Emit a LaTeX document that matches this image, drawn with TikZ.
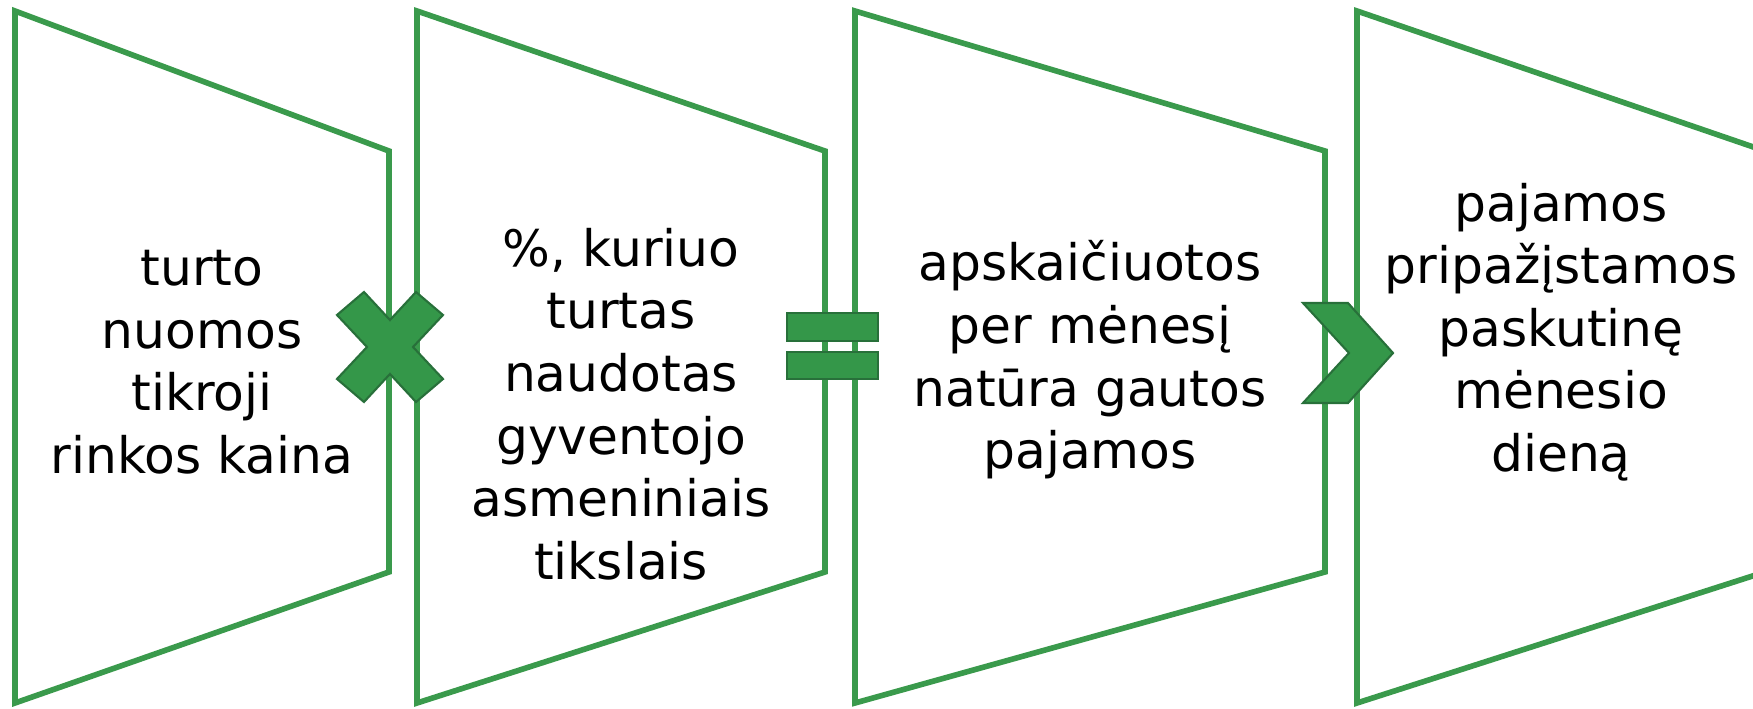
\documentclass[tikz,border=0pt]{standalone}
\usepackage{fontspec}
\setmainfont{DejaVu Sans}
\definecolor{stagegreen}{HTML}{3A9A4C}
\definecolor{signfill}{HTML}{349749}
\definecolor{signedge}{HTML}{28703A}
\tikzset{
  stage/.style={draw=stagegreen, line width=1.6pt, line join=miter},
  sign/.style={fill=signfill, draw=signedge, line width=0.6pt},
  stagetext/.style={align=center, font=\fontsize{14.3}{17.8}\selectfont, inner sep=0pt}
}

\begin{document}
\begin{tikzpicture}[x=0.01cm,y=-0.01cm]
\useasboundingbox (0,0) rectangle (1753,709);
\clip (0,0) rectangle (1753,709);
\draw[stage] (15,11) -- (389,151) -- (389,572) -- (15,703) -- cycle;
\draw[stage] (417,11) -- (825,151) -- (825,572) -- (417,703) -- cycle;
\draw[stage] (855,11) -- (1325,151) -- (1325,572) -- (855,703) -- cycle;
\draw[stage] (1357,11) -- (1765,151) -- (1765,572) -- (1357,703) -- cycle;
\node[stagetext] (price) at (202,362) {turto\\nuomos\\tikroji\\rinkos kaina};
\node[stagetext] (share) at (621,404) {\%, kuriuo\\turtas\\naudotas\\gyventojo\\asmeniniais\\tikslais};
\node[stagetext] (income) at (1090,360) {apskaičiuotos\\per mėnesį\\natūra gautos\\pajamos};
\node[stagetext] (lastday) at (1561,332) {pajamos\\pripažįstamos\\paskutinę\\mėnesio\\dieną};
\draw[sign] (390,320) -- (416,292) -- (443,315) -- (413,347) -- (443,379) -- (416,402) -- (390,374)
  -- (364,402) -- (337,379) -- (367,347) -- (337,315) -- (364,292) -- cycle;
\draw[sign] (787,313) rectangle (878,341);
\draw[sign] (787,352) rectangle (878,379);
\draw[sign] (1303,303) -- (1348,303) -- (1393,353) -- (1348,403) -- (1303,403) -- (1349,353) -- cycle;
\end{tikzpicture}
\end{document}
